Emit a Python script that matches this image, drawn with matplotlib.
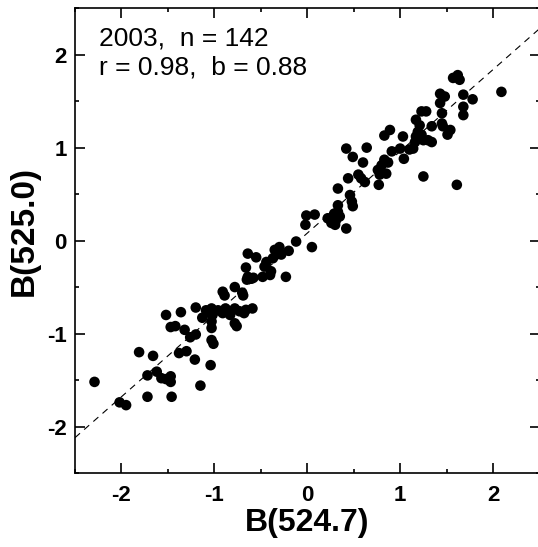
import numpy as np
import matplotlib
matplotlib.use("Agg")
import matplotlib.pyplot as plt
from matplotlib.ticker import MultipleLocator

plt.rcParams['font.family'] = ['Liberation Sans', 'DejaVu Sans']
plt.rcParams['axes.unicode_minus'] = False

# B(524.7) vs B(525.0)
x_vals = [
    -2.29, -2.02, -1.95, -1.81, -1.72, -1.72, -1.66, -1.62, -1.57, -1.52,
    -1.47, -1.47, -1.46, -1.52, -1.47, -1.42, -1.36, -1.32, -1.38, -1.30,
    -1.26, -1.20, -1.20, -1.21, -1.15, -1.13, -1.09, -1.05, -1.03, -1.02,
    -1.03, -1.03, -1.04, -1.03, -1.01, -0.96, -0.91, -0.89, -0.91, -0.88,
    -0.83, -0.82, -0.78, -0.78, -0.78, -0.76, -0.73, -0.69, -0.70, -0.66,
    -0.68, -0.59, -0.64, -0.55, -0.66, -0.65, -0.64, -0.58, -0.48, -0.46,
    -0.40, -0.39, -0.44, -0.37, -0.35, -0.30, -0.28, -0.23, -0.20, -0.12,
    -0.02, -0.01, 0.08, 0.05, 0.22, 0.28, 0.30, 0.35, 0.26, 0.31,
    0.33, 0.33, 0.42, 0.33, 0.46, 0.48, 0.49, 0.44, 0.42, 0.64,
    0.49, 0.55, 0.58, 0.62, 0.60, 0.77, 0.78, 0.76, 0.80, 0.83,
    0.87, 0.85, 0.83, 0.89, 0.91, 1.03, 1.04, 1.00, 1.10, 1.14,
    1.17, 1.19, 1.23, 1.16, 1.17, 1.21, 1.25, 1.30, 1.34, 1.23,
    1.28, 1.34, 1.57, 1.62, 1.64, 1.43, 1.48, 1.43, 1.45, 1.68,
    1.78, 1.68, 1.68, 2.09, 1.45, 1.46, 1.54, 1.51, 1.61, 1.25,
    -0.60, 0.29,
]
y_vals = [
    -1.52, -1.74, -1.77, -1.20, -1.68, -1.45, -1.24, -1.41, -1.48, -1.49,
    -1.46, -1.52, -1.68, -0.80, -0.93, -0.92, -0.77, -0.96, -1.21, -1.19,
    -1.04, -1.01, -0.72, -1.28, -1.56, -0.83, -0.75, -0.78, -0.73, -0.80,
    -0.87, -0.94, -1.34, -1.07, -1.11, -0.75, -0.55, -0.59, -0.78, -0.73,
    -0.80, -0.76, -0.50, -0.73, -0.89, -0.92, -0.76, -0.59, -0.56, -0.745,
    -0.78, -0.73, -0.14, -0.18, -0.29, -0.42, -0.39, -0.40, -0.39, -0.28,
    -0.37, -0.33, -0.23, -0.19, -0.10, -0.07, -0.15, -0.39, -0.11, -0.01,
    0.17, 0.27, 0.28, -0.07, 0.24, 0.26, 0.17, 0.26, 0.19, 0.22,
    0.38, 0.31, 0.13, 0.56, 0.49, 0.42, 0.37, 0.67, 0.99, 1.00,
    0.90, 0.71, 0.67, 0.63, 0.84, 0.60, 0.71, 0.76, 0.81, 0.87,
    0.84, 0.72, 1.13, 1.19, 0.96, 1.12, 0.88, 0.99, 0.98, 0.99,
    1.12, 1.17, 1.14, 1.06, 1.30, 1.24, 0.69, 1.08, 1.23, 1.39,
    1.39, 1.06, 1.75, 1.78, 1.73, 1.58, 1.55, 1.48, 1.37, 1.57,
    1.52, 1.44, 1.35, 1.60, 1.26, 1.23, 1.19, 1.14, 0.60, 1.08,
    -0.41, 0.29,
]

# regression line
slope = 0.88
intercept = 0.08
annot = "2003,  n = 142\nr = 0.98,  b = 0.88"

fig = plt.figure(figsize=(5.38, 5.47), dpi=100)
ax = fig.add_axes([0.1394, 0.1353, 0.8634, 0.8497])

ax.scatter(x_vals, y_vals, s=58, color="black", edgecolors="none", zorder=3)

xl = np.array([-2.5, 2.5])
ax.plot(xl, slope * xl + intercept, color="black", lw=0.8, ls=(0, (6, 5)), zorder=2)

ax.set_xlim(-2.5, 2.5)
ax.set_ylim(-2.5, 2.5)
ax.xaxis.set_major_locator(MultipleLocator(1))
ax.yaxis.set_major_locator(MultipleLocator(1))
ax.xaxis.set_minor_locator(MultipleLocator(0.5))
ax.yaxis.set_minor_locator(MultipleLocator(0.5))
ax.tick_params(which="both", direction="in", top=True, right=True, width=1.2)
ax.tick_params(which="major", length=7, labelsize=16)
ax.tick_params(axis="x", which="major", pad=9)
ax.tick_params(axis="y", which="major", pad=6)
ax.tick_params(which="minor", length=3)
for lab in ax.get_xticklabels() + ax.get_yticklabels():
    lab.set_fontweight("bold")
for sp in ax.spines.values():
    sp.set_linewidth(1.2)

ax.set_xlabel("B(524.7)", fontsize=23, fontweight="bold", labelpad=1)
ax.set_ylabel("B(525.0)", fontsize=24, fontweight="bold")
ax.yaxis.set_label_coords(-0.075, 0.52)

ax.text(0.051, 0.96, annot, transform=ax.transAxes, fontsize=19,
        va="top", ha="left", linespacing=1.25)

fig.savefig("out.png", dpi=100)
